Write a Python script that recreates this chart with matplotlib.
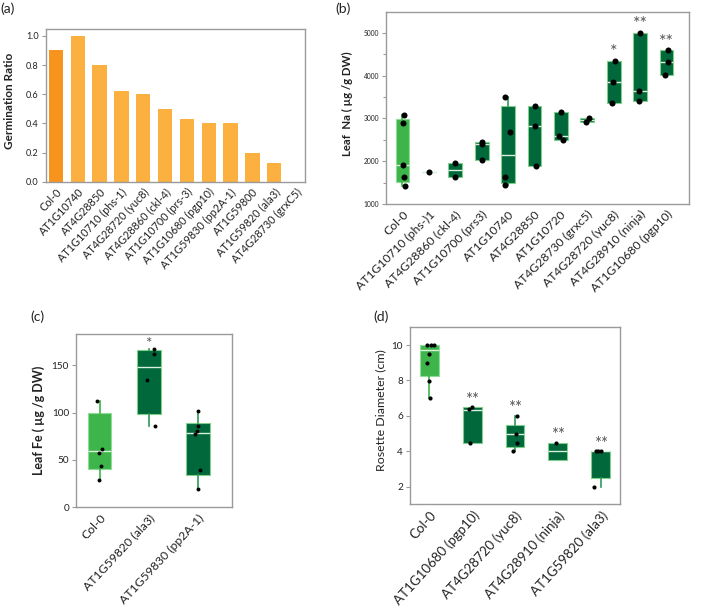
import matplotlib
matplotlib.use("Agg")
import matplotlib.pyplot as plt
from matplotlib.ticker import MultipleLocator

plt.rcParams['font.family'] = ['Lato', 'DejaVu Sans']

# ---------------- Panel (a) data ----------------
a_labels = ["Col-0", "AT1G10740", "AT4G28850", "AT1G10710 (phs-1)", "AT4G28720 (yuc8)",
            "AT4G28860 (ckl-4)", "AT1G10700 (prs-3)", "AT1G10680 (pgp10)",
            "AT1G59830 (pp2A-1)", "AT1G59800", "AT1G59820 (ala3)", "AT4G28730 (grxC5)"]
a_values = [0.90, 1.00, 0.80, 0.625, 0.60, 0.50, 0.43, 0.405, 0.40, 0.20, 0.125, 0.0]
a_yticks = [0.0, 0.2, 0.4, 0.6, 0.8, 1.0]

# ---------------- Panel (b) data ----------------
b_labels = ["Col-0", "AT1G10710 (phs-)1", "AT4G28860 (ckl-4)", "AT1G10700 (prs3)",
            "AT1G10740", "AT4G28850", "AT1G10720", "AT4G28730 (grxc5)",
            "AT4G28720 (yuc8)", "AT4G28910 (ninja)", "AT1G10680 (pgp10)"]
b_points = [[3080, 2890, 1920, 1640, 1430], [1750], [1950, 1635], [2440, 2400, 2035],
            [3490, 2670, 1640, 1445], [3295, 2820, 1895], [3140, 2595, 2490],
            [3005, 2905], [4340, 3850, 3360], [5000, 3635, 3415], [4585, 4320, 4010]]
b_q1 = [1520, 1750, 1632, 2035, 1500, 1895, 2490, 2905, 3360, 3415, 4010]
b_med = [1918, 1750, 1795, 2400, 2155, 2820, 2595, 2955, 3850, 3635, 4320]
b_q3 = [2986, 1750, 1950, 2440, 3288, 3295, 3140, 3005, 4340, 5000, 4585]
b_wlo = [1430, 1750, 1632, 2035, 1445, 1895, 2490, 2905, 3360, 3415, 4010]
b_whi = [3080, 1750, 1950, 2440, 3490, 3295, 3140, 3005, 4340, 5000, 4585]
b_sig = ["", "", "", "", "", "", "", "", "*", "**", "**"]
b_yticks = [1000, 2000, 3000, 4000, 5000]

# ---------------- Panel (c) data ----------------
c_labels = ["Col-0", "AT1G59820 (ala3)", "AT1G59830 (pp2A-1)"]
c_points = [[112, 62, 57, 44, 28.5], [167, 162, 134, 86], [101.5, 86, 80, 77, 39, 19.5]]
c_q1 = [40.2, 98, 34.4]
c_med = [59.4, 148, 78.7]
c_q3 = [100, 165.5, 89.3]
c_wlo = [28.5, 86, 19.5]
c_whi = [112, 167, 101.5]
c_sig = ["", "*", ""]
c_yticks = [0, 50, 100, 150]

# ---------------- Panel (d) data ----------------
d_labels = ["Col-0", "AT1G10680 (pgp10)", "AT4G28720 (yuc8)", "AT4G28910 (ninja)", "AT1G59820 (ala3)"]
d_points = [[10, 10, 10, 9.47, 8.98, 7.99, 7.0], [6.39, 6.5, 4.48], [6.0, 5.0, 4.48, 4.0],
            [4.48], [4.0, 4.0, 4.0, 2.0]]
d_q1 = [8.23, 4.48, 4.26, 3.49, 2.5]
d_med = [9.74, 6.35, 4.97, 4.0, 4.0]
d_q3 = [10.0, 6.5, 5.46, 4.47, 4.0]
d_wlo = [7.0, 4.48, 4.0, 3.49, 2.0]
d_whi = [10.0, 6.5, 6.0, 4.47, 4.0]
d_sig = ["", "**", "**", "**", "**"]
d_yticks = [2, 4, 6, 8, 10]

# ---------------- styles / layout ----------------
ORANGE_DARK = "#F7941D"
ORANGE = "#FBB040"
GREEN_LIGHT = "#3DB54A"
GREEN_DARK = "#00683A"
SPINE = "#9a9a9a"
TXT = "#222222"

b_jit = [[0.05, 0.03, 0.03, 0.05, 0.1], [0.0], [0.0, 0.0], [0.02, 0.02, 0.02],
         [-0.12, 0.07, -0.12, -0.1], [0.0, 0.0, 0.04], [0.02, -0.06, 0.06],
         [0.07, -0.04], [0.06, -0.03, -0.06], [0.0, -0.05, -0.05], [0.05, 0.07, -0.06]]
c_jit = [[-0.05, 0.05, -0.01, 0.03, -0.01], [0.11, 0.10, -0.03, 0.13], [0.01, 0.01, -0.01, -0.05, 0.04, 0.0]]
d_jit = [[-0.05, 0.03, 0.1, 0.0, -0.06, 0.0, 0.01], [-0.08, 0.0, -0.04], [0.05, 0.03, 0.05, -0.04],
         [-0.05], [-0.12, -0.06, 0.0, -0.16]]

fig = plt.figure(figsize=(7.09, 6.13), dpi=100)
W, H = 709.0, 613.0


def px(x, y):
    return x / W, 1 - y / H


def style_axes(ax, yfs):
    for s in ax.spines.values():
        s.set_color(SPINE)
        s.set_linewidth(1.0)
    ax.tick_params(axis='y', which='both', colors=SPINE, labelcolor=TXT, labelsize=yfs,
                   length=3, width=0.8, pad=2)
    ax.tick_params(axis='y', which='minor', length=2)
    ax.tick_params(axis='x', length=0, labelcolor=TXT)


def set_xlabels(ax, labels, fs, rot):
    ax.set_xticks(range(len(labels)))
    ax.set_xticklabels(labels, rotation=rot, ha='right', rotation_mode='anchor', fontsize=fs)


def boxes(ax, q1, med, q3, wlo, whi, points, jit, colors, width, msize, sig, sig_off, sig_fs):
    stats = []
    for i in range(len(q1)):
        stats.append(dict(med=med[i], q1=q1[i], q3=q3[i], whislo=wlo[i], whishi=whi[i],
                          fliers=[], label=str(i)))
    bp = ax.bxp(stats, positions=range(len(q1)), widths=width, patch_artist=True,
                showfliers=False, showcaps=False)
    for i, patch in enumerate(bp['boxes']):
        patch.set_facecolor(colors[i])
        patch.set_edgecolor("#7fcf8a" if i else "#8fdc98")
        patch.set_linewidth(0.8)
    for j, w in enumerate(bp['whiskers']):
        w.set_color(GREEN_LIGHT if j // 2 == 0 else "#2f9a5a")
        w.set_linewidth(1.2)
    for m in bp['medians']:
        m.set_color("#d8f0dc")
        m.set_linewidth(1.0)
    for i, pts in enumerate(points):
        xs = [i + o for o in jit[i]]
        ax.scatter(xs, pts, s=msize, color='black', zorder=5, linewidths=0)
    for i, s in enumerate(sig):
        if s:
            ax.text(i, whi[i] + sig_off, s, ha='center', va='center', fontsize=sig_fs,
                    color="#555555")


# ---------- (a) ----------
axa = fig.add_axes([0.0645, 0.7036, 0.3657, 0.2486])
cols_a = [ORANGE_DARK] + [ORANGE] * (len(a_values) - 1)
axa.bar(range(len(a_values)), a_values, width=0.66, color=cols_a)
axa.set_xlim(-0.47, 11.41)
axa.set_ylim(0, 1.045)
axa.set_yticks(a_yticks)
axa.set_yticklabels([f"{v:.1f}" for v in a_yticks])
style_axes(axa, 6.6)
set_xlabels(axa, a_labels, 7.8, 47)
fig.text(*px(9.5, 101), "Germination Ratio", rotation=90, ha='center', va='center',
         fontsize=8.5, fontweight='bold', color=TXT)

# ---------- (b) ----------
axb = fig.add_axes([0.5444, 0.6672, 0.4274, 0.3137])
boxes(axb, b_q1, b_med, b_q3, b_wlo, b_whi, b_points, b_jit,
      [GREEN_LIGHT] + [GREEN_DARK] * 10, 0.52, 19, b_sig, 200, 13)
axb.set_xlim(-0.625, 10.85)
axb.set_ylim(1000, 5490)
axb.set_yticks(b_yticks)
axb.yaxis.set_minor_locator(MultipleLocator(500))
style_axes(axb, 4.8)
set_xlabels(axb, b_labels, 8.7, 45)
fig.text(*px(347.5, 103.5), "Leaf  Na ( µg /g DW)", rotation=90, ha='center', va='center',
         fontsize=8.2, fontweight='bold', color=TXT)

# ---------- (c) ----------
axc = fig.add_axes([0.1072, 0.1724, 0.2205, 0.2822])
boxes(axc, c_q1, c_med, c_q3, c_wlo, c_whi, c_points, c_jit,
      [GREEN_LIGHT, GREEN_DARK, GREEN_DARK], 0.48, 8, c_sig, 5, 11)
axc.set_xlim(-0.48, 2.70)
axc.set_ylim(0, 182.5)
axc.set_yticks(c_yticks)
style_axes(axc, 7.2)
set_xlabels(axc, c_labels, 8.8, 47)
fig.text(*px(38.5, 420), "Leaf Fe ( µg /g DW)", rotation=90, ha='center', va='center',
         fontsize=9.0, fontweight='bold', color=TXT)

# ---------- (d) ----------
axd = fig.add_axes([0.5783, 0.1773, 0.2962, 0.2887])
boxes(axd, d_q1, d_med, d_q3, d_wlo, d_whi, d_points, d_jit,
      [GREEN_LIGHT] + [GREEN_DARK] * 4, 0.44, 9, d_sig, 0.42, 12)
axd.set_xlim(-0.45, 4.45)
axd.set_ylim(1, 11)
axd.set_yticks(d_yticks)
style_axes(axd, 7.2)
set_xlabels(axd, d_labels, 9.6, 48)
fig.text(*px(381, 410), "Rosette Diameter (cm)", rotation=90, ha='center', va='center',
         fontsize=8.9, color=TXT)

# panel letters
for x, y, t in [(0, 8.5, "(a)"), (335, 8.5, "(b)"), (30, 317, "(c)"), (373, 317, "(d)")]:
    fig.text(*px(x, y), t, fontsize=10, va='center', ha='left', color=TXT)

fig.savefig("out.png", dpi=100)
